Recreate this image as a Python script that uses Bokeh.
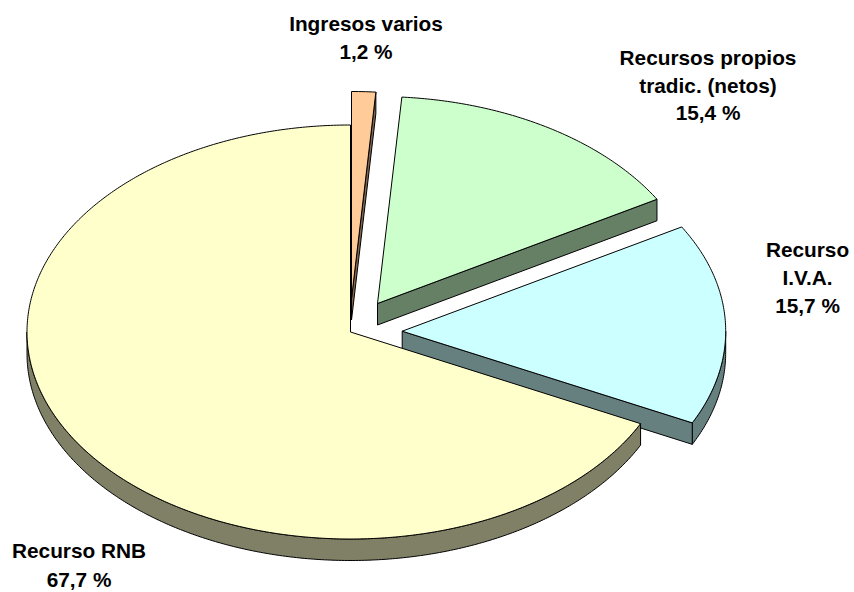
import numpy as np
from bokeh.embed import file_html
from bokeh.models import Range1d
from bokeh.plotting import figure
from bokeh.resources import INLINE
from bokeh.core.properties import value

categories = ["Ingresos varios", "Recursos propios tradic. (netos)", "Recurso I.V.A.", "Recurso RNB"]
shares = [1.2, 15.4, 15.7, 67.7]
top_colors = ["#FFCC99", "#CCFFCC", "#CCFFFF", "#FFFFCC"]
wall_colors = ["#806650", "#668066", "#668080", "#808066"]
explode_x = [1.0, 27.0, 51.7, 0.0]
explode_y = [-33.5, -28.5, -0.8, 0.0]

label_lines = [["Ingresos varios", "1,2 %"],
               ["Recursos propios", "tradic. (netos)", "15,4 %"],
               ["Recurso", "I.V.A.", "15,7 %"],
               ["Recurso RNB", "67,7 %"]]
label_x = [365.5, 707.5, 807, 78.5]
label_y = [[23, 51], [57, 85, 112], [249, 277, 305], [550, 579]]

CX, CY, RX, RY, DEPTH = 350.0, 331.5, 323.5, 207.0, 21.5
W, H = 854, 592

p = figure(width=W, height=H, output_backend="svg", toolbar_location=None,
           x_range=Range1d(0, W), y_range=Range1d(H, 0),
           min_border=0, outline_line_color=None, background_fill_color="white",
           border_fill_color="white")
p.axis.visible = False
p.grid.visible = False


def arc(a, b, cx, cy):
    t = np.radians(np.linspace(a, b, max(int(abs(b - a) * 2), 2)))
    return cx + RX * np.sin(t), cy - RY * np.cos(t)


def wall(xs, ys, color):
    p.patch(np.r_[xs, xs[::-1]], np.r_[ys, ys[::-1] + DEPTH],
            fill_color=color, line_color="black", line_width=1)


edges = np.r_[0, np.cumsum(shares)] / sum(shares) * 360
for i in range(len(shares)):
    a, b = edges[i], edges[i + 1]
    cx, cy = CX + explode_x[i], CY + explode_y[i]
    # outer rim, only where it faces the viewer
    lo, hi = max(a, 90), min(b, 270)
    if hi > lo:
        wall(*arc(lo, hi, cx, cy), wall_colors[i])
    # cut faces that face the viewer
    for ang, visible in ((a, np.sin(np.radians(a)) < -1e-6), (b, np.sin(np.radians(b)) > 1e-6)):
        if visible:
            ex, ey = arc(ang, ang, cx, cy)
            wall(np.array([cx, ex[0]]), np.array([cy, ey[0]]), wall_colors[i])
    # top face
    ax, ay = arc(a, b, cx, cy)
    p.patch(np.r_[cx, ax], np.r_[cy, ay], fill_color=top_colors[i],
            line_color="black", line_width=1)

for lines, lx, lys in zip(label_lines, label_x, label_y):
    p.text([lx] * len(lines), lys, text=lines, text_align="center", text_baseline="middle",
           text_font=value("Liberation Sans"), text_font_style="bold",
           text_font_size="20.8px", text_color="black")

open("out.html", "w").write(file_html(p, INLINE))
